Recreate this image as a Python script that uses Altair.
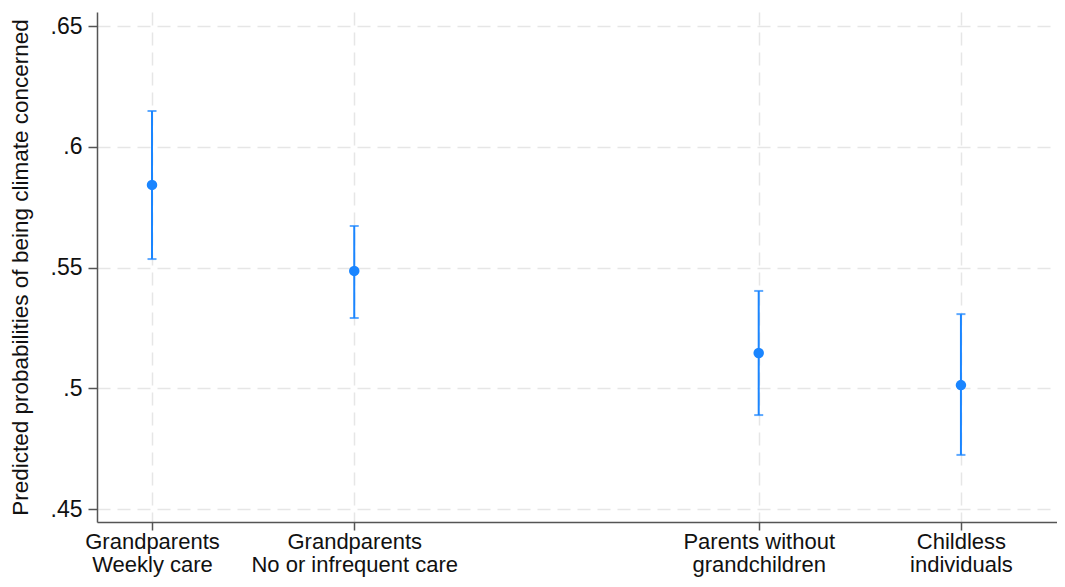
import altair as alt
import pandas as pd

positions = [1, 2, 4, 5]
label_line1 = ["Grandparents", "Grandparents", "Parents without", "Childless"]
label_line2 = ["Weekly care", "No or infrequent care", "grandchildren", "individuals"]
estimates = [0.5842, 0.5486, 0.5146, 0.5013]
lower = [0.5535, 0.5291, 0.4889, 0.4724]
upper = [0.6148, 0.5672, 0.5403, 0.5307]
y_ticks = [0.45, 0.50, 0.55, 0.60, 0.65]

df = pd.DataFrame({"pos": positions, "est": estimates, "lo": lower, "hi": upper})

label_expr = ""
for p, a, b in zip(positions, label_line1, label_line2):
    label_expr += f"datum.value == {p} ? ['{a}', '{b}'] : "
label_expr += "''"

blue = "#1a85ff"
font = "Liberation Sans"

x_scale = alt.Scale(domain=[0.728, 5.475], nice=False, zero=False)
y_scale = alt.Scale(domain=[0.44462, 0.6558], nice=False, zero=False)

x_axis = alt.Axis(
    values=positions, labelExpr=label_expr, title=None,
    grid=True, gridColor="#e6e6e6", gridDash=[13, 7], gridWidth=1.5,
    domainColor="#555555", domainWidth=1.5, tickColor="#555555", tickWidth=1.5,
    tickSize=8, labelFontSize=22, labelColor="#111111", labelFont=font,
    labelPadding=1, labelLineHeight=23, labelBaseline="top", labelLimit=0,
)
y_axis = alt.Axis(
    values=y_ticks, labelExpr="replace(format(datum.value, '.2~f'), '0.', '.')",
    title="Predicted probabilities of being climate concerned",
    titleFontSize=22.5, titleFont=font, titleFontWeight="normal", titleColor="#111111",
    titlePadding=18,
    grid=True, gridColor="#e6e6e6", gridDash=[13, 7], gridWidth=1.5,
    domainColor="#555555", domainWidth=1.5, tickColor="#555555", tickWidth=1.5,
    tickSize=9, labelFontSize=23, labelColor="#111111", labelFont=font,
    labelPadding=6,
)

base = alt.Chart(df)

rules = base.mark_rule(color=blue, strokeWidth=2).encode(
    x=alt.X("pos:Q", scale=x_scale, axis=x_axis),
    y=alt.Y("lo:Q", scale=y_scale, axis=y_axis),
    y2="hi:Q",
)
cap_lo = base.mark_tick(color=blue, orient="horizontal", size=9, thickness=2).encode(
    x=alt.X("pos:Q", scale=x_scale), y=alt.Y("lo:Q", scale=y_scale)
)
cap_hi = base.mark_tick(color=blue, orient="horizontal", size=9, thickness=2).encode(
    x=alt.X("pos:Q", scale=x_scale), y=alt.Y("hi:Q", scale=y_scale)
)
points = base.mark_point(color=blue, filled=True, opacity=1, size=110, shape="circle").encode(
    x=alt.X("pos:Q", scale=x_scale), y=alt.Y("est:Q", scale=y_scale)
)

chart = alt.layer(rules, cap_lo, cap_hi, points).properties(
    width=960, height=510,
    background="white",
    autosize=alt.AutoSizeParams(type="none"),
    padding={"left": 89, "top": 4, "right": 0, "bottom": 56},
).configure_view(stroke=None)

chart.save("out.html", embed_options={"renderer": "svg", "actions": False})
